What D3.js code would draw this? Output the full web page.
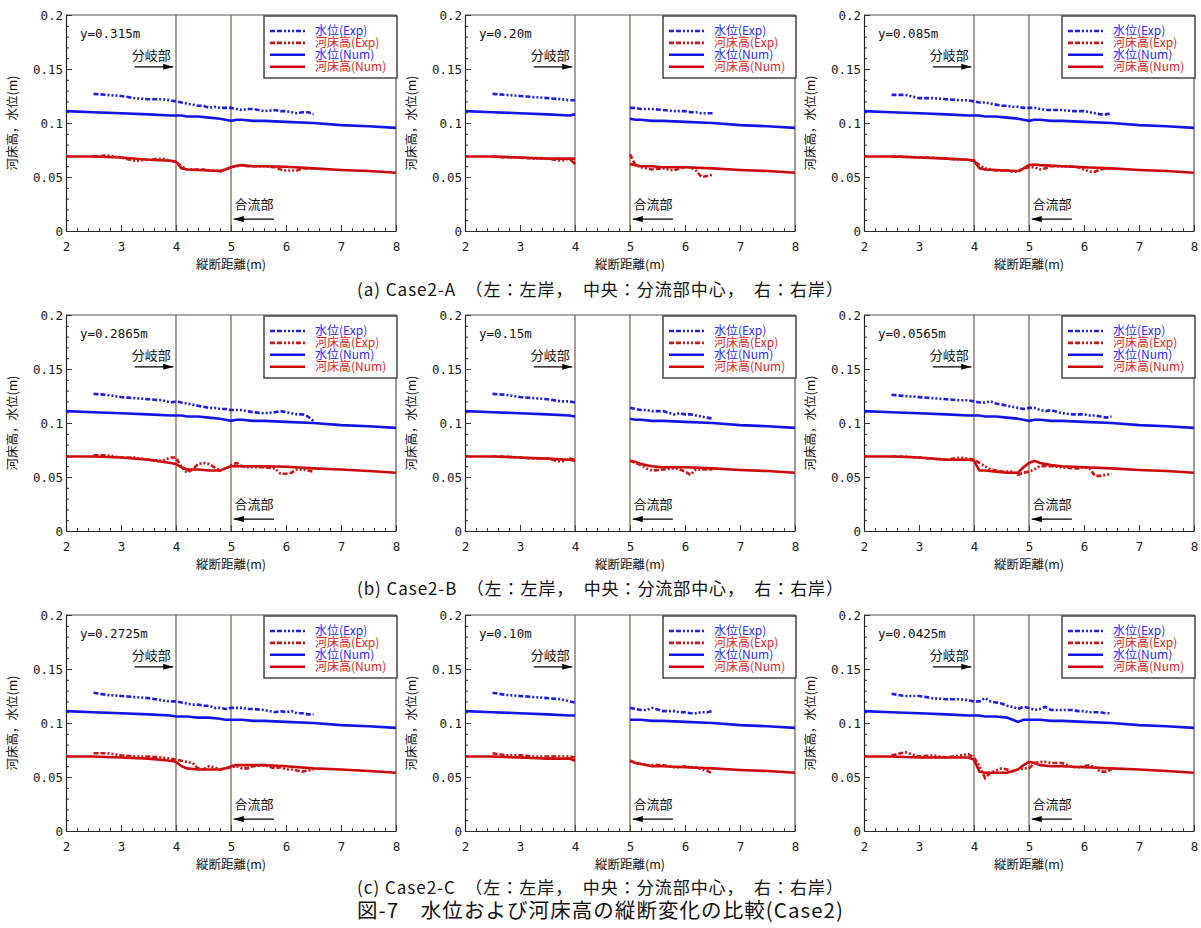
<!DOCTYPE html>
<html lang="ja">
<head>
<meta charset="UTF-8">
<title>図-7 水位および河床高の縦断変化の比較(Case2)</title>
<script src="https://d3js.org/d3.v7.min.js"></script>
<style>
  body { margin: 0; background: #fff; }
  svg { display: block; }
  .tick text { font-family: "DejaVu Sans Mono", monospace; font-size: 12.5px; fill: #1a1a1a; }
  .jp { font-family: "Noto Sans CJK JP", sans-serif; }
  .mono { font-family: "DejaVu Sans Mono", "Noto Sans CJK JP", monospace; }
</style>
</head>
<body>
<svg id="chart" width="1201" height="928"></svg>
<script>
// x positions (m) shared by the series
const numX = [2, 2.5, 3, 3.5, 3.9, 4, 4.1, 4.2, 4.4, 4.6, 4.8, 4.9, 5, 5.1, 5.2, 5.4, 5.6, 6, 6.5, 7, 7.5, 8];
const expX = [2.5, 2.75, 3, 3.25, 3.5, 3.75, 3.9, 4, 4.1, 4.2, 4.3, 4.4, 4.5, 4.6, 4.7, 4.8, 4.9, 5, 5.1, 5.2, 5.3, 5.4, 5.6, 5.8, 5.9, 6, 6.1, 6.2, 6.3, 6.4, 6.5];

const xTicks = [2, 3, 4, 5, 6, 7, 8];
const yTicks = [0, 0.05, 0.1, 0.15, 0.2];
const junctionX = [4, 5];

// Case2-A
const numWaterAL = [0.111,0.110,0.109,0.108,0.107,0.107,0.107,0.106,0.106,0.105,0.104,0.103,0.102,0.103,0.103,0.102,0.102,0.101,0.100,0.098,0.097,0.0955];
const numBedAL   = [0.069,0.069,0.068,0.066,0.065,0.064,0.058,0.057,0.0565,0.056,0.0555,0.057,0.059,0.0605,0.061,0.060,0.060,0.0595,0.058,0.0565,0.0555,0.054];
const expWaterAL = [0.127,0.126,0.125,0.123,0.122,0.122,0.121,0.120,0.119,0.118,0.117,0.116,0.116,0.114,0.115,0.114,0.114,0.114,0.113,0.112,0.113,0.113,0.111,0.112,0.111,0.111,0.110,0.109,0.110,0.110,0.108];
const expBedAL   = [0.069,0.070,0.068,0.065,0.066,0.067,0.065,0.064,0.060,0.057,0.057,0.057,0.057,0.056,0.056,0.055,0.057,0.059,0.060,0.061,0.060,0.060,0.060,0.059,0.057,0.056,0.056,0.056,0.058,0.058,0.058];

const numWaterAC = [0.111,0.110,0.109,0.108,0.107,0.108,null,null,null,null,null,null,0.104,0.103,0.103,0.102,0.102,0.101,0.100,0.098,0.097,0.0955];
const numBedAC   = [0.069,0.069,0.068,0.067,0.067,0.062,null,null,null,null,null,null,0.062,0.061,0.060,0.060,0.059,0.059,0.058,0.0565,0.0555,0.054];
const expWaterAC = [0.127,0.126,0.125,0.124,0.123,0.122,0.121,0.121,null,null,null,null,null,null,null,null,null,0.114,0.114,0.113,0.113,0.113,0.112,0.111,0.111,0.111,0.110,0.110,0.109,0.109,0.109];
const expBedAC   = [0.069,0.068,0.068,0.067,0.067,0.065,0.067,0.067,null,null,null,null,null,null,null,null,null,0.071,0.061,0.059,0.058,0.057,0.058,0.056,0.058,0.059,0.059,0.056,0.050,0.051,0.052];

const numWaterAR = [0.111,0.110,0.109,0.108,0.107,0.107,0.107,0.106,0.106,0.105,0.104,0.103,0.102,0.103,0.103,0.102,0.102,0.101,0.100,0.098,0.097,0.0955];
const numBedAR   = [0.069,0.069,0.068,0.067,0.066,0.065,0.058,0.057,0.0565,0.056,0.0555,0.058,0.061,0.0615,0.061,0.0605,0.060,0.059,0.058,0.0565,0.0555,0.054];
const expWaterAR = [0.126,0.126,0.123,0.123,0.122,0.121,0.121,0.120,0.119,0.119,0.118,0.117,0.116,0.116,0.115,0.115,0.114,0.114,0.114,0.113,0.112,0.112,0.112,0.111,0.111,0.111,0.110,0.109,0.108,0.108,0.109];
const expBedAR   = [0.069,0.069,0.068,0.068,0.067,0.066,0.066,0.065,0.061,0.058,0.057,0.056,0.056,0.056,0.055,0.055,0.058,0.059,0.059,0.057,0.058,0.060,0.060,0.060,0.059,0.057,0.055,0.055,0.057,0.058,0.058];

// Case2-B
const numWaterBL = [0.111,0.110,0.109,0.108,0.107,0.107,0.107,0.106,0.106,0.105,0.104,0.103,0.102,0.103,0.103,0.102,0.102,0.101,0.100,0.098,0.097,0.0955];
const numBedBL   = [0.069,0.069,0.068,0.066,0.063,0.062,0.059,0.057,0.057,0.056,0.056,0.058,0.060,0.060,0.060,0.060,0.060,0.0595,0.058,0.057,0.0555,0.054];
const expWaterBL = [0.127,0.126,0.124,0.123,0.122,0.121,0.119,0.120,0.119,0.118,0.117,0.116,0.115,0.114,0.114,0.113,0.113,0.112,0.112,0.112,0.111,0.110,0.109,0.110,0.111,0.110,0.109,0.108,0.108,0.106,0.102];
const expBedBL   = [0.070,0.070,0.068,0.068,0.066,0.065,0.068,0.068,0.059,0.054,0.057,0.062,0.063,0.062,0.059,0.056,0.058,0.061,0.063,0.060,0.059,0.059,0.059,0.058,0.053,0.053,0.054,0.057,0.057,0.056,0.055];

const numWaterBC = [0.111,0.110,0.109,0.108,0.107,0.106,null,null,null,null,null,null,0.104,0.103,0.103,0.102,0.102,0.101,0.100,0.098,0.097,0.0955];
const numBedBC   = [0.069,0.069,0.068,0.067,0.066,0.065,null,null,null,null,null,null,0.065,0.064,0.062,0.060,0.059,0.059,0.058,0.0565,0.0555,0.054];
const expWaterBC = [0.127,0.126,0.124,0.123,0.122,0.120,0.120,0.119,null,null,null,null,null,null,null,null,null,0.114,0.113,0.112,0.112,0.111,0.111,0.108,0.109,0.108,0.108,0.107,0.106,0.105,0.104];
const expBedBC   = [0.069,0.069,0.068,0.067,0.067,0.064,0.067,0.066,null,null,null,null,null,null,null,null,null,0.065,0.063,0.061,0.058,0.056,0.057,0.058,0.057,0.055,0.052,0.057,0.057,0.057,0.057];

const numWaterBR = [0.111,0.110,0.109,0.108,0.107,0.107,0.107,0.106,0.106,0.105,0.104,0.103,0.102,0.103,0.103,0.102,0.102,0.101,0.100,0.098,0.097,0.0955];
const numBedBR   = [0.069,0.069,0.068,0.066,0.066,0.065,0.056,0.056,0.055,0.054,0.054,0.059,0.063,0.065,0.063,0.061,0.060,0.059,0.058,0.0565,0.0555,0.054];
const expWaterBR = [0.126,0.125,0.124,0.123,0.122,0.121,0.121,0.120,0.119,0.119,0.120,0.118,0.117,0.116,0.115,0.114,0.113,0.114,0.114,0.112,0.111,0.112,0.109,0.108,0.108,0.108,0.107,0.107,0.106,0.105,0.106];
const expBedBR   = [0.069,0.069,0.068,0.067,0.066,0.068,0.067,0.066,0.063,0.060,0.057,0.056,0.055,0.055,0.055,0.052,0.054,0.055,0.057,0.060,0.060,0.060,0.059,0.058,0.058,0.059,0.058,0.051,0.051,0.052,0.053];

// Case2-C
const numWaterCL = [0.111,0.110,0.109,0.108,0.107,0.106,0.106,0.106,0.105,0.105,0.104,0.103,0.103,0.103,0.103,0.102,0.102,0.101,0.100,0.098,0.097,0.0955];
const numBedCL   = [0.069,0.069,0.068,0.067,0.065,0.064,0.060,0.058,0.057,0.057,0.057,0.058,0.060,0.061,0.061,0.061,0.061,0.060,0.058,0.057,0.0555,0.054];
const expWaterCL = [0.128,0.126,0.125,0.124,0.123,0.121,0.120,0.120,0.119,0.118,0.117,0.117,0.116,0.116,0.114,0.114,0.113,0.114,0.114,0.114,0.113,0.113,0.112,0.110,0.111,0.110,0.111,0.109,0.109,0.108,0.108];
const expBedCL   = [0.072,0.072,0.070,0.069,0.069,0.068,0.067,0.066,0.065,0.064,0.063,0.058,0.057,0.060,0.059,0.057,0.058,0.059,0.060,0.058,0.058,0.060,0.061,0.058,0.059,0.057,0.057,0.056,0.055,0.056,0.057];

const numWaterCC = [0.111,0.110,0.109,0.108,0.107,0.107,null,null,null,null,null,null,0.103,0.103,0.103,0.102,0.102,0.101,0.100,0.098,0.097,0.0955];
const numBedCC   = [0.069,0.069,0.068,0.067,0.067,0.065,null,null,null,null,null,null,0.065,0.063,0.062,0.060,0.060,0.059,0.058,0.0565,0.0555,0.054];
const expWaterCC = [0.128,0.126,0.125,0.124,0.123,0.122,0.120,0.119,null,null,null,null,null,null,null,null,null,0.114,0.113,0.112,0.112,0.114,0.111,0.111,0.110,0.110,0.109,0.109,0.110,0.110,0.111];
const expBedCC   = [0.072,0.070,0.070,0.069,0.069,0.069,0.069,0.068,null,null,null,null,null,null,null,null,null,0.065,0.063,0.062,0.061,0.061,0.061,0.059,0.059,0.060,0.059,0.059,0.057,0.056,0.053];

const numWaterCR = [0.111,0.110,0.109,0.108,0.107,0.107,0.107,0.106,0.106,0.105,0.101,0.103,0.103,0.103,0.103,0.102,0.102,0.101,0.100,0.098,0.097,0.0955];
const numBedCR   = [0.069,0.069,0.068,0.068,0.068,0.066,0.055,0.054,0.054,0.054,0.057,0.061,0.064,0.063,0.061,0.060,0.060,0.059,0.058,0.057,0.0555,0.054];
const expWaterCR = [0.127,0.125,0.125,0.123,0.122,0.122,0.121,0.120,0.120,0.123,0.120,0.119,0.118,0.116,0.115,0.113,0.115,0.114,0.112,0.113,0.115,0.112,0.112,0.112,0.111,0.111,0.110,0.110,0.110,0.109,0.109];
const expBedCR   = [0.070,0.073,0.069,0.070,0.068,0.070,0.071,0.068,0.060,0.049,0.054,0.056,0.058,0.057,0.055,0.057,0.058,0.058,0.063,0.064,0.064,0.063,0.063,0.059,0.059,0.060,0.061,0.059,0.055,0.055,0.057];

const panelLabels = ["y=0.315m", "y=0.20m", "y=0.085m", "y=0.2865m", "y=0.15m", "y=0.0565m", "y=0.2725m", "y=0.10m", "y=0.0425m"];
const captions = [
  "(a)  Case2-A　（左：左岸，　中央：分流部中心，　右：右岸）",
  "(b)  Case2-B　（左：左岸，　中央：分流部中心，　右：右岸）",
  "(c)  Case2-C　（左：左岸，　中央：分流部中心，　右：右岸）"
];
const figTitle = "図-7　水位および河床高の縦断変化の比較(Case2)";

const legendItems = [
  { label: "水位(Exp)", key: "expWater" },
  { label: "河床高(Exp)", key: "expBed" },
  { label: "水位(Num)", key: "numWater" },
  { label: "河床高(Num)", key: "numBed" }
];

// annotation anchors in data units
const branchNote = { text: "分岐部", x: 3.55, y: 0.158, x1: 3.25, x2: 3.95, ya: 0.152 };
const mergeNote  = { text: "合流部", x: 5.42, y: 0.0205, x1: 5.78, x2: 5.05, ya: 0.011 };

const panels = [
  [numWaterAL, numBedAL, expWaterAL, expBedAL],
  [numWaterAC, numBedAC, expWaterAC, expBedAC],
  [numWaterAR, numBedAR, expWaterAR, expBedAR],
  [numWaterBL, numBedBL, expWaterBL, expBedBL],
  [numWaterBC, numBedBC, expWaterBC, expBedBC],
  [numWaterBR, numBedBR, expWaterBR, expBedBR],
  [numWaterCL, numBedCL, expWaterCL, expBedCL],
  [numWaterCC, numBedCC, expWaterCC, expBedCC],
  [numWaterCR, numBedCR, expWaterCR, expBedCR]
].map((s, i) => ({
  label: panelLabels[i],
  numWater: numX.map((x, j) => [x, s[0][j]]),
  numBed: numX.map((x, j) => [x, s[1][j]]),
  expWater: expX.map((x, j) => [x, s[2][j]]),
  expBed: expX.map((x, j) => [x, s[3][j]])
}));

const styles = {
  numWater: { color: "#1414e6", dash: null, width: 2.6 },
  numBed: { color: "#cc0a0a", dash: null, width: 2.6 },
  expWater: { color: "#1e1ee8", dash: "5,2,5,2,2,2,2,2,2,2", width: 2.6 },
  expBed: { color: "#d01414", dash: "5,2,5,2,2,2,2,2,2,2", width: 2.6 }
};
const textColor = { expWater: "#2b2bff", numWater: "#2b2bff", expBed: "#e02424", numBed: "#e02424" };

const width = 330, height = 216;
const colLeft = [66, 465, 864];
const rowTop = [15, 315, 615];

const svg = d3.select("#chart");

svg.append("defs").append("marker")
  .attr("id", "arrow")
  .attr("viewBox", "0 0 10 6")
  .attr("refX", 10).attr("refY", 3)
  .attr("markerWidth", 10).attr("markerHeight", 6)
  .attr("markerUnits", "userSpaceOnUse")
  .attr("orient", "auto")
  .append("path")
  .attr("d", "M0,0L10,3L0,6Z")
  .attr("fill", "#000");

const x = d3.scaleLinear().domain([2, 8]).range([0, width]);
const y = d3.scaleLinear().domain([0, 0.2]).range([height, 0]);

const line = d3.line()
  .defined(d => d[1] != null)
  .x(d => x(d[0]))
  .y(d => y(d[1]));

panels.forEach((p, i) => {
  const g = svg.append("g")
    .attr("transform", `translate(${colLeft[i % 3]},${rowTop[Math.floor(i / 3)]})`);

  // frame (top / right)
  g.append("path")
    .attr("d", `M0,0H${width}V${height}`)
    .attr("fill", "none")
    .attr("stroke", "#555")
    .attr("stroke-width", 1.2);

  // minor ticks
  g.append("g")
    .attr("transform", `translate(0,${height})`)
    .call(d3.axisBottom(x).ticks(30).tickSize(-3).tickSizeOuter(0).tickFormat(""))
    .call(a => a.select(".domain").remove());
  g.append("g")
    .call(d3.axisLeft(y).ticks(20).tickSize(-3).tickSizeOuter(0).tickFormat(""))
    .call(a => a.select(".domain").remove());

  // major axes
  g.append("g")
    .attr("transform", `translate(0,${height})`)
    .call(d3.axisBottom(x).tickValues(xTicks).tickSize(-6).tickSizeOuter(0).tickPadding(11).tickFormat(d3.format("d")))
    .call(a => a.select(".domain").attr("stroke", "#222").attr("stroke-width", 1.2));
  g.append("g")
    .call(d3.axisLeft(y).tickValues(yTicks).tickSize(-6).tickSizeOuter(0).tickPadding(3).tickFormat(d3.format("~g")))
    .call(a => a.select(".domain").attr("stroke", "#222").attr("stroke-width", 1.2));
  g.selectAll(".tick line").attr("stroke", "#333");

  // branch / confluence lines
  g.selectAll(".junction")
    .data(junctionX)
    .join("line")
    .attr("class", "junction")
    .attr("x1", d => x(d)).attr("x2", d => x(d))
    .attr("y1", 0).attr("y2", height)
    .attr("stroke", "#6e4636")
    .attr("stroke-width", 1.1);

  // series
  ["numBed", "numWater", "expBed", "expWater"].forEach(k => {
    g.append("path")
      .datum(p[k])
      .attr("fill", "none")
      .attr("stroke", styles[k].color)
      .attr("stroke-width", styles[k].width)
      .attr("stroke-dasharray", styles[k].dash)
      .attr("d", line);
  });

  // panel label
  g.append("text")
    .attr("class", "mono")
    .attr("x", 14).attr("y", 23)
    .attr("font-size", 12.5)
    .attr("fill", "#111")
    .text(p.label);

  // annotations
  [branchNote, mergeNote].forEach(n => {
    g.append("text")
      .attr("class", "jp")
      .attr("x", x(n.x)).attr("y", y(n.y))
      .attr("text-anchor", "middle")
      .attr("font-size", 13)
      .attr("fill", "#111")
      .text(n.text);
    g.append("line")
      .attr("x1", x(n.x1)).attr("x2", x(n.x2))
      .attr("y1", y(n.ya)).attr("y2", y(n.ya))
      .attr("stroke", "#000")
      .attr("stroke-width", 1.3)
      .attr("marker-end", "url(#arrow)");
  });

  // legend
  const lg = g.append("g").attr("transform", `translate(198,1)`);
  lg.append("rect")
    .attr("width", 133).attr("height", 62)
    .attr("fill", "#fff")
    .attr("stroke", "#444")
    .attr("stroke-width", 1.5);
  legendItems.forEach((d, j) => {
    const yy = 15 + j * 11.9;
    lg.append("line")
      .attr("x1", 6).attr("x2", 41)
      .attr("y1", yy).attr("y2", yy)
      .attr("stroke", styles[d.key].color)
      .attr("stroke-width", styles[d.key].width)
      .attr("stroke-dasharray", styles[d.key].dash);
    lg.append("text")
      .attr("class", "jp")
      .attr("x", 51).attr("y", yy + 4.3)
      .attr("font-size", 12)
      .attr("fill", textColor[d.key])
      .text(d.label);
  });

  // axis titles
  g.append("text")
    .attr("class", "jp")
    .attr("x", width / 2).attr("y", 254)
    .attr("text-anchor", "middle")
    .attr("font-size", 12.5)
    .attr("fill", "#111")
    .text("縦断距離(m)");
  g.append("text")
    .attr("class", "jp")
    .attr("transform", `translate(-49,${height / 2}) rotate(-90)`)
    .attr("text-anchor", "middle")
    .attr("font-size", 12.5)
    .attr("fill", "#111")
    .text("河床高，水位(m)");
});

// captions
captions.forEach((c, i) => {
  svg.append("text")
    .attr("class", "jp")
    .attr("x", 600).attr("y", 296 + i * 299)
    .attr("text-anchor", "middle")
    .attr("font-size", 17)
    .attr("textLength", 486)
    .attr("lengthAdjust", "spacing")
    .attr("fill", "#111")
    .text(c);
});

svg.append("text")
  .attr("class", "jp")
  .attr("x", 600).attr("y", 918)
  .attr("text-anchor", "middle")
  .attr("font-size", 20.5)
  .attr("textLength", 486)
  .attr("lengthAdjust", "spacing")
  .attr("fill", "#111")
  .text(figTitle);
</script>
</body>
</html>
